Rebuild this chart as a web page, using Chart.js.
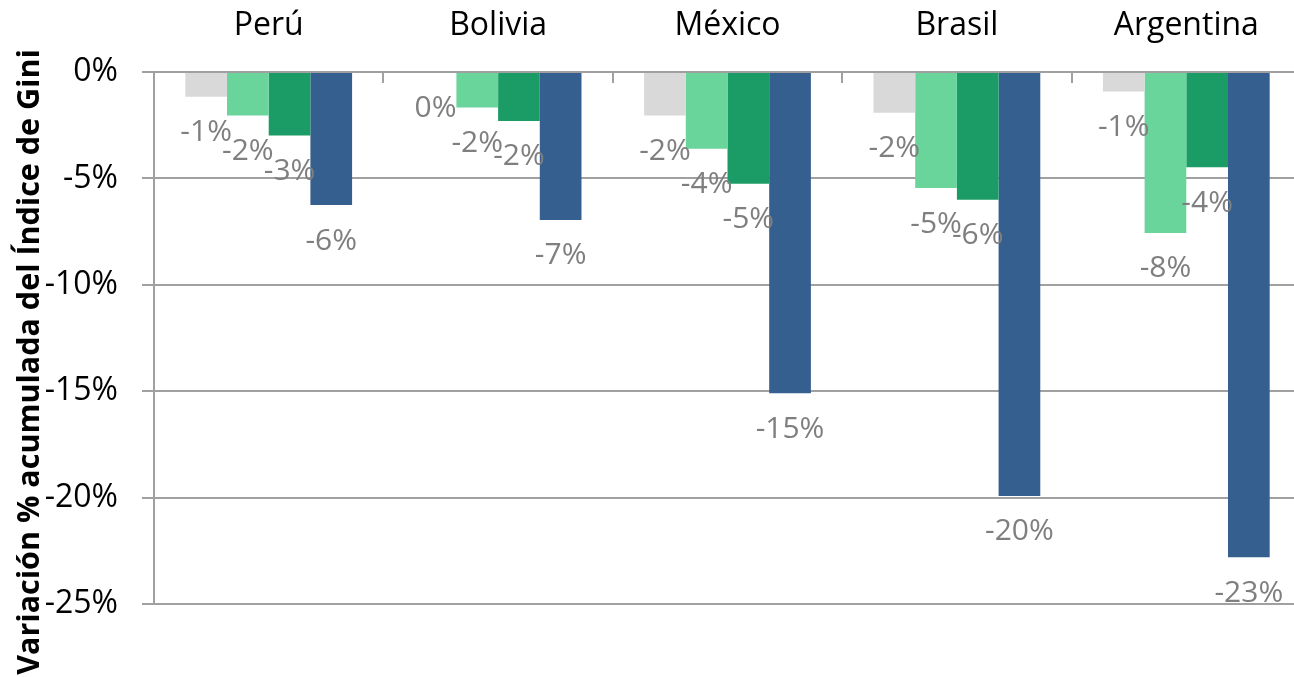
<!DOCTYPE html>
<html>
<head>
<meta charset="utf-8">
<script src="https://cdn.jsdelivr.net/npm/chart.js@4/dist/chart.umd.min.js"></script>
<style>
  html, body { margin: 0; padding: 0; background: #fff; overflow: hidden; }
  #wrap { width: 1301px; height: 677px; }
</style>
</head>
<body>
<div id="wrap"><canvas id="chart"></canvas></div>
<script>
// data (% change of the Gini index)
const countries = ['Perú', 'Bolivia', 'México', 'Brasil', 'Argentina'];
const serie1 = [-1.16, 0, -2.05, -1.91, -0.92];
const serie2 = [-2.05, -1.67, -3.61, -5.45, -7.56];
const serie3 = [-2.98, -2.30, -5.25, -6.0, -4.48];
const serie4 = [-6.25, -6.95, -15.1, -19.92, -22.8];
const yTicks = [0, -5, -10, -15, -20, -25];
const yTitle = 'Variación % acumulada del Índice de Gini';

const colors = ['#d9d9d9', '#69d59b', '#1b9c67', '#355f8e'];
const gridColor = '#a0a0a0';

// value labels under each bar
const barLabels = {
    id: 'barLabels',
    afterDatasetsDraw(chart) {
        const ctx = chart.ctx;
        ctx.save();
        ctx.font = '30px "Open Sans"';
        ctx.fillStyle = '#7f7f7f';
        ctx.textAlign = 'center';
        ctx.textBaseline = 'middle';
        chart.data.datasets.forEach((ds, i) => {
            chart.getDatasetMeta(i).data.forEach((bar, j) => {
                const v = Math.round(ds.data[j]);
                ctx.fillText((v === 0 ? 0 : v) + '%', bar.x, bar.y + 36);
            });
        });
        ctx.restore();
    }
};

// short category tick marks hanging from the zero line, plus the axis title
const extras = {
    id: 'extras',
    afterDraw(chart) {
        const ctx = chart.ctx;
        const area = chart.chartArea;
        const n = countries.length;
        const w = (area.right - area.left) / n;
        ctx.save();
        ctx.strokeStyle = gridColor;
        ctx.lineWidth = 2;
        for (let i = 1; i < n; i++) {
            const x = Math.round(area.left + i * w);
            ctx.beginPath();
            ctx.moveTo(x, area.top);
            ctx.lineTo(x, area.top + 11);
            ctx.stroke();
        }
        ctx.translate(30, 362);
        ctx.rotate(-Math.PI / 2);
        ctx.font = 'bold 30.5px "Open Sans"';
        ctx.fillStyle = '#000';
        ctx.textAlign = 'center';
        ctx.textBaseline = 'middle';
        ctx.fillText(yTitle, 0, 0);
        ctx.restore();
    }
};

new Chart(document.getElementById('chart'), {
    type: 'bar',
    data: {
        labels: countries,
        datasets: [serie1, serie2, serie3, serie4].map((d, i) => ({
            label: 'Serie ' + (i + 1),
            data: d,
            backgroundColor: colors[i],
            barPercentage: 1,
            categoryPercentage: 0.727
        }))
    },
    options: {
        responsive: true,
        maintainAspectRatio: false,
        animation: false,
        layout: { padding: { left: 0, right: 0, top: 0, bottom: 73 } },
        plugins: {
            legend: { display: false },
            tooltip: { enabled: false }
        },
        scales: {
            x: {
                position: 'top',
                grid: { display: false, drawTicks: false },
                border: { display: false },
                ticks: {
                    color: '#000',
                    font: { family: 'Open Sans', size: 32 },
                    padding: 27,
                    maxRotation: 0,
                    autoSkip: false
                },
                afterFit(s) { s.height = 72; }
            },
            y: {
                min: -25,
                max: 0,
                afterBuildTicks(s) { s.ticks = yTicks.map(v => ({ value: v })); },
                ticks: {
                    color: '#000',
                    font: { family: 'Open Sans', size: 32 },
                    padding: 24,
                    callback: v => v + '%'
                },
                grid: { color: gridColor, lineWidth: 2, tickLength: 12 },
                border: { color: gridColor, width: 2 },
                afterFit(s) { s.width = 154; }
            }
        }
    },
    plugins: [barLabels, extras]
});
</script>
</body>
</html>
